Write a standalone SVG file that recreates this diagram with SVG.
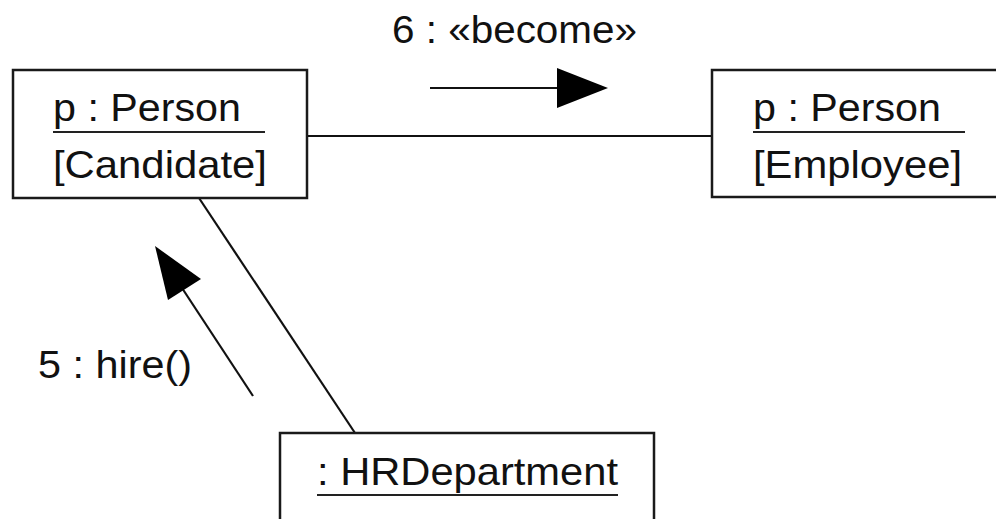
<svg xmlns="http://www.w3.org/2000/svg" width="996" height="519" viewBox="0 0 996 519">
<style>
.box{fill:#fff;stroke:#1a1a1a;stroke-width:2.5}
.ln{stroke:#111;stroke-width:2.2;fill:none}
.ul{stroke:#222;stroke-width:2.2}
.t{font-family:"Liberation Sans",Arial,sans-serif;font-size:39px;fill:#111}
.head{fill:#000;stroke:none}
</style>
<rect width="996" height="519" fill="#fff"/>
<g id="connectors">
<line class="ln" x1="307" y1="136" x2="712" y2="136"/>
<line class="ln" x1="199" y1="198" x2="355" y2="433"/>
<line class="ln" x1="430" y1="88" x2="570" y2="88"/>
<polygon class="head" points="608,88 557,68 557,108"/>
<line class="ln" x1="253" y1="396" x2="182" y2="288"/>
<polygon class="head" points="155,246 168,300 201,279"/>
<text class="t" x="392" y="43" textLength="245" lengthAdjust="spacingAndGlyphs">6 : «become»</text>
<text class="t" x="38" y="378" textLength="154" lengthAdjust="spacingAndGlyphs">5 : hire()</text>
</g>
<g id="candidate">
<rect class="box" x="13" y="70" width="294" height="128"/>
<text class="t" x="53" y="121" textLength="188" lengthAdjust="spacingAndGlyphs">p : Person</text>
<line class="ul" x1="53" y1="132" x2="265" y2="132"/>
<text class="t" x="53" y="178" textLength="214" lengthAdjust="spacingAndGlyphs">[Candidate]</text>
</g>
<g id="employee">
<rect class="box" x="712" y="70" width="300" height="127"/>
<text class="t" x="753" y="121" textLength="188" lengthAdjust="spacingAndGlyphs">p : Person</text>
<line class="ul" x1="753" y1="132" x2="965" y2="132"/>
<text class="t" x="753" y="178" textLength="209" lengthAdjust="spacingAndGlyphs">[Employee]</text>
</g>
<g id="hrdepartment">
<rect class="box" x="280" y="433" width="374" height="100"/>
<text class="t" x="317" y="485" textLength="301" lengthAdjust="spacingAndGlyphs">: HRDepartment</text>
<line class="ul" x1="317" y1="495" x2="618" y2="495"/>
</g>
</svg>
